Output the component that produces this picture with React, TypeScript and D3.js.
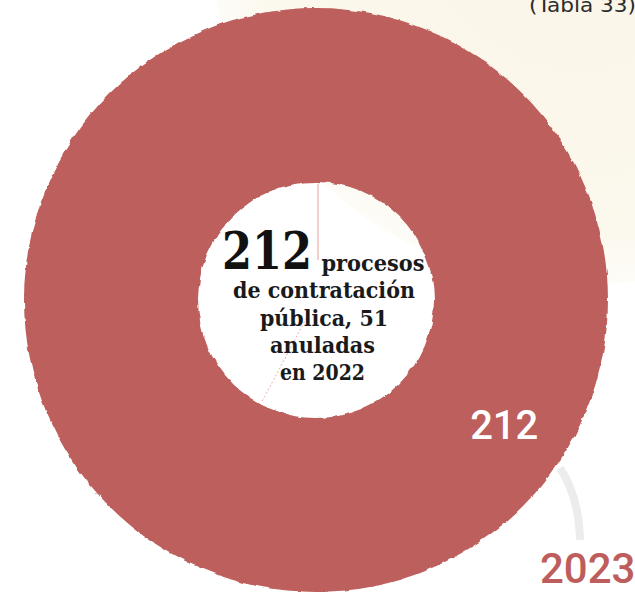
import React from "react";
import * as d3 from "d3";

const categories = ["Procesos de contratación pública"];
const values = [212];
const ringLabels = ["212"];
const centerBig = "212";
const centerLines = ["procesos", "de contratación", "pública, 51", "anuladas", "en 2022"];
const yearLabel = "2023";
const sourceLabel = "(Tabla 33)";

const W = 635;
const H = 592;
const cx = 316;
const cy = 300;
const outerR = 292;
const innerR = 118;
const ringColor = "#bd5e5c";

export default function App() {
  const pie = d3.pie<number>().sort(null).value((d) => d);
  const arcs = pie(values);
  const arc = d3.arc<d3.PieArcDatum<number>>().innerRadius(innerR).outerRadius(outerR);

  const labelAngle = (123.6 * Math.PI) / 180;
  const labelR = 226;
  const lx = labelR * Math.sin(labelAngle);
  const ly = -labelR * Math.cos(labelAngle);

  const diagAngle = (208 * Math.PI) / 180;

  const serif = "'DejaVu Serif', serif";
  const sans = "Roboto, 'Noto Sans', sans-serif";

  const lineWidths = [103, 182, 128, 105, 85];
  const lineBase = [271, 298, 326, 353, 380];
  const lineCx = [373, 324, 324, 322.5, 322.5];

  return (
    <svg
      width={W}
      height={H}
      style={{ position: "absolute", left: 0, top: 0, background: "#ffffff" }}
    >
      <defs>
        <filter id="rough" x="-5%" y="-5%" width="110%" height="110%">
          <feTurbulence type="fractalNoise" baseFrequency="0.09" numOctaves="2" seed="3" />
          <feDisplacementMap in="SourceGraphic" scale="4" xChannelSelector="R" yChannelSelector="G" />
        </filter>
        <radialGradient id="beige" cx="0.5" cy="0.5" r="0.5">
          <stop offset="0%" stopColor="#fbf5e8" />
          <stop offset="85%" stopColor="#fbf8ed" />
          <stop offset="100%" stopColor="#fdfcf7" />
        </radialGradient>
      </defs>
      <rect width={W} height={H} fill="#ffffff" />
      <circle cx={580} cy={-90} r={375} fill="url(#beige)" />
      <text
        x={636}
        y={12}
        textAnchor="end"
        fontFamily="'DejaVu Sans', sans-serif"
        fontSize={20}
        fontWeight={500}
        textLength={107}
        lengthAdjust="spacingAndGlyphs"
        fill="#2b2b2b"
      >
        {sourceLabel}
      </text>

      <path
        d="M 560 468 Q 579 497 580 540"
        fill="none"
        stroke="#ececec"
        strokeWidth={8}
      />

      <g transform={`translate(${cx},${cy})`}>
        {arcs.map((a, i) => (
          <path key={categories[i]} d={arc(a) || ""} fill={ringColor} filter="url(#rough)" />
        ))}
        <line x1={2} y1={-innerR + 2} x2={2} y2={-40} stroke="#ec9c9c" strokeWidth={1} />
        <line
          x1={innerR * 0.97 * Math.sin(diagAngle)}
          y1={-innerR * 0.97 * Math.cos(diagAngle)}
          x2={20 * Math.sin(diagAngle)}
          y2={-20 * Math.cos(diagAngle)}
          stroke="#e8b4b0"
          strokeWidth={1}
          strokeDasharray="2 2"
        />
        {arcs.map((a, i) => (
          <text
            key={"l" + i}
            x={lx}
            y={ly}
            dy="0.35em"
            textAnchor="middle"
            fontFamily={sans}
            fontSize={40}
            fontWeight={500}
            fill="#ffffff"
          >
            {ringLabels[i]}
          </text>
        ))}
      </g>

      <text
        x={267}
        y={269}
        textAnchor="middle"
        fontFamily={serif}
        fontWeight="bold"
        fontSize={52}
        textLength={90}
        lengthAdjust="spacingAndGlyphs"
        fill="#111111"
      >
        {centerBig}
      </text>
      {centerLines.map((t, i) => (
        <text
          key={t}
          x={lineCx[i]}
          y={lineBase[i]}
          textAnchor="middle"
          fontFamily={serif}
          fontWeight="bold"
          fontSize={23}
          textLength={lineWidths[i]}
          lengthAdjust="spacingAndGlyphs"
          fill="#1a1a1a"
        >
          {t}
        </text>
      ))}

      <text
        x={540}
        y={583}
        fontFamily={sans}
        fontSize={42}
        fontWeight={500}
        fill={ringColor}
      >
        {yearLabel}
      </text>
    </svg>
  );
}
